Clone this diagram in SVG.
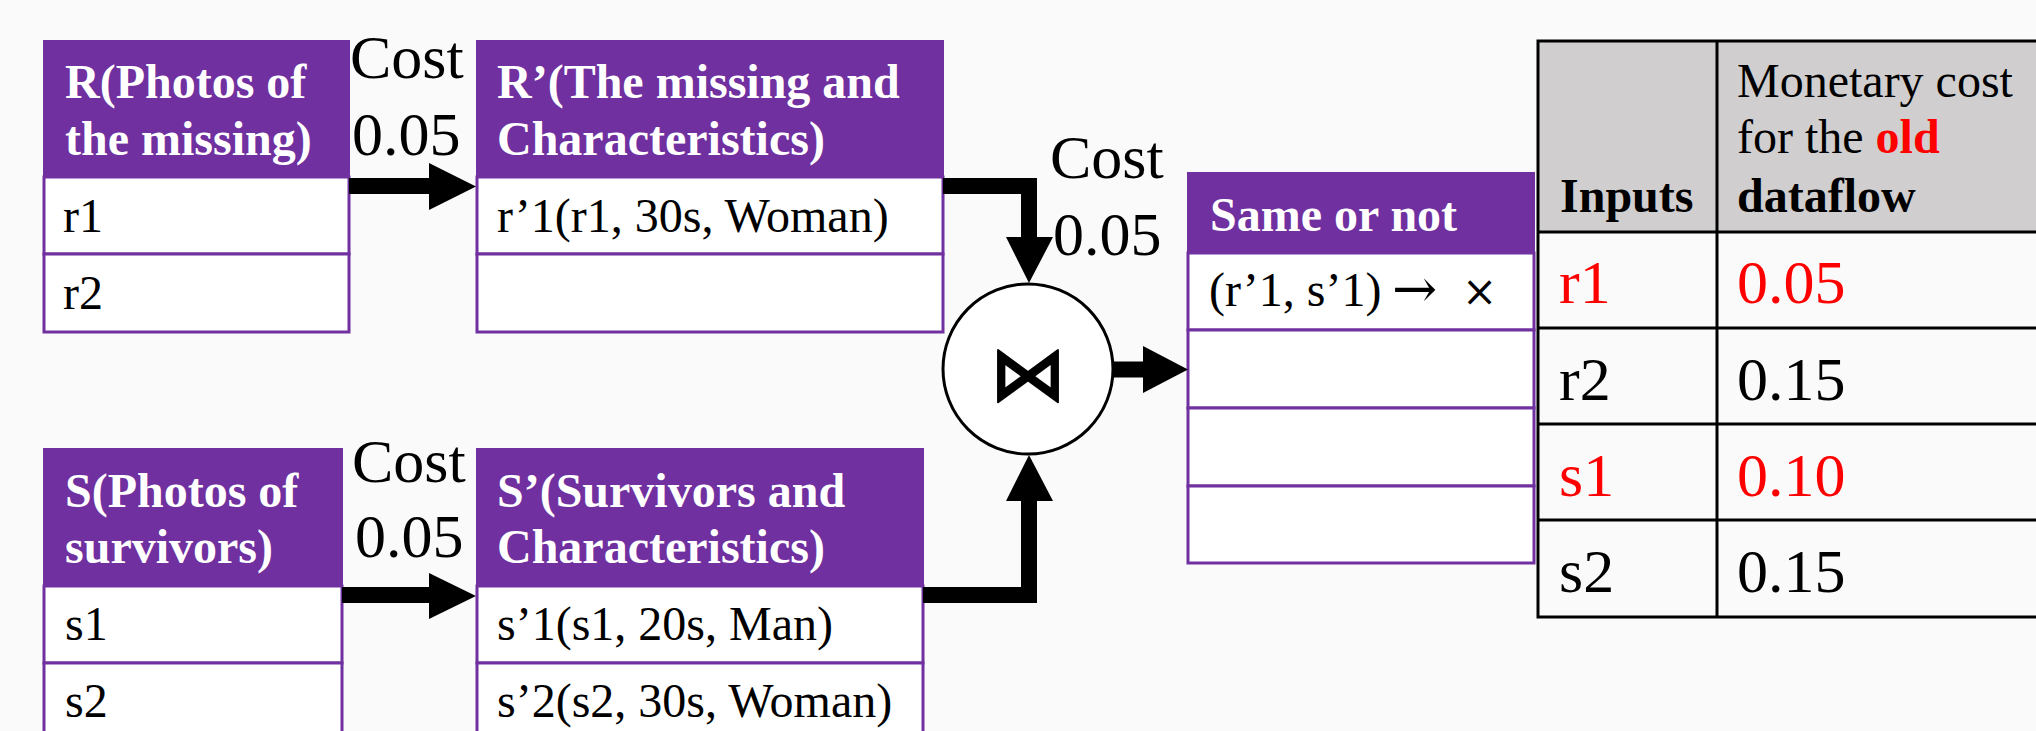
<svg xmlns="http://www.w3.org/2000/svg" width="2036" height="731" viewBox="0 0 2036 731">
<defs>
<style>
.bg{fill:#fafafa}
.hd{fill:#7030a0;stroke:#7030a0;stroke-width:2}
.row{fill:#ffffff;stroke:#7030a0;stroke-width:3}
.ht{font-family:"Liberation Serif","Times New Roman",serif;font-weight:bold;font-size:48px;fill:#ffffff}
.rt{font-family:"Liberation Serif","Times New Roman",serif;font-size:48px;fill:#000000}
.cost{font-family:"Liberation Serif","Times New Roman",serif;font-size:62px;fill:#000000}
.val{font-family:"Liberation Serif","Times New Roman",serif;font-size:62px;fill:#000000}
.red{fill:#ff0000}
.b{font-weight:bold}
.tb{stroke:#000000;stroke-width:3;fill:none}
.shaft{fill:none;stroke:#000000;stroke-width:16;stroke-linejoin:miter}
.head{fill:#000000}
</style>
</defs>
<rect class="bg" x="0" y="0" width="2036" height="731"/>

<g id="R">
<rect class="hd" x="44" y="41" width="305" height="136"/>
<rect class="row" x="44" y="177" width="305" height="77"/>
<rect class="row" x="44" y="254" width="305" height="78"/>
<text class="ht" x="65" y="98">R(Photos of</text>
<text class="ht" x="65" y="155">the missing)</text>
<text class="rt" x="63" y="232">r1</text>
<text class="rt" x="63" y="309">r2</text>
</g>

<g id="Rprime">
<rect class="hd" x="477" y="41" width="466" height="136"/>
<rect class="row" x="477" y="177" width="466" height="77"/>
<rect class="row" x="477" y="254" width="466" height="78"/>
<text class="ht" x="497" y="98">R’(The missing and</text>
<text class="ht" x="497" y="155">Characteristics)</text>
<text class="rt" x="497" y="232">r’1(r1, 30s, Woman)</text>
</g>

<g id="S">
<rect class="hd" x="44" y="449" width="298" height="137"/>
<rect class="row" x="44" y="586" width="298" height="77"/>
<rect class="row" x="44" y="663" width="298" height="78"/>
<text class="ht" x="65" y="507">S(Photos of</text>
<text class="ht" x="65" y="563">survivors)</text>
<text class="rt" x="65" y="640">s1</text>
<text class="rt" x="65" y="717">s2</text>
</g>

<g id="Sprime">
<rect class="hd" x="477" y="449" width="446" height="137"/>
<rect class="row" x="477" y="586" width="446" height="77"/>
<rect class="row" x="477" y="663" width="446" height="78"/>
<text class="ht" x="497" y="507">S’(Survivors and</text>
<text class="ht" x="497" y="563">Characteristics)</text>
<text class="rt" x="497" y="640">s’1(s1, 20s, Man)</text>
<text class="rt" x="497" y="717">s’2(s2, 30s, Woman)</text>
</g>

<g id="join">
<circle cx="1028" cy="369" r="85" fill="#ffffff" stroke="#000000" stroke-width="3"/>
<text x="1028" y="400" text-anchor="middle" font-family="DejaVu Sans, sans-serif" font-size="76" fill="#000000" stroke="#000000" stroke-width="2" stroke-linejoin="round">⋈</text>
</g>

<g id="SameOrNot">
<rect class="hd" x="1188" y="173" width="346" height="80"/>
<rect class="row" x="1188" y="253" width="346" height="77"/>
<rect class="row" x="1188" y="330" width="346" height="78"/>
<rect class="row" x="1188" y="408" width="346" height="78"/>
<rect class="row" x="1188" y="486" width="346" height="77"/>
<text class="ht" x="1210" y="231">Same or not</text>
<text class="rt" y="306"><tspan x="1209">(r’1, s’1)</tspan><tspan x="1392" y="307" font-family="DejaVu Serif, serif" font-size="54">→</tspan><tspan x="1462" y="306" font-family="DejaVu Serif, serif" font-size="42">×</tspan></text>
</g>

<g id="CostTable">
<rect x="1538" y="41" width="510" height="191" fill="#d0cecf"/>
<rect x="1538" y="232" width="510" height="385" fill="#fafafa"/>
<path class="tb" d="M2040,41 H1538 V617 H2040 M1538,232 H2040 M1538,328 H2040 M1538,424 H2040 M1538,520 H2040 M1717,41 V617"/>
<text class="rt b" x="1560" y="212">Inputs</text>
<text class="rt" x="1737" y="97">Monetary cost</text>
<text class="rt" x="1737" y="153">for the <tspan class="b red">old</tspan></text>
<text class="rt b" x="1737" y="212">dataflow</text>
<text class="val red" x="1559" y="303">r1</text>
<text class="val red" x="1737" y="303">0.05</text>
<text class="val" x="1559" y="400">r2</text>
<text class="val" x="1737" y="400">0.15</text>
<text class="val red" x="1559" y="496">s1</text>
<text class="val red" x="1737" y="496">0.10</text>
<text class="val" x="1559" y="592">s2</text>
<text class="val" x="1737" y="592">0.15</text>
</g>

<g id="connectors">
<path class="shaft" d="M349,186 H430"/>
<polygon class="head" points="429,163 476,186.5 429,210"/>
<path class="shaft" d="M342,595 H430"/>
<polygon class="head" points="429,573 476,596 429,619"/>
<path class="shaft" d="M943,186 H1029 V238"/>
<polygon class="head" points="1006,237 1053,237 1029,283"/>
<path class="shaft" d="M923,595 H1029 V500"/>
<polygon class="head" points="1006,501 1053,501 1029,455"/>
<path class="shaft" d="M1113,369.5 H1144"/>
<polygon class="head" points="1143,346 1188,369.5 1143,393"/>
<text class="cost" x="350" y="78">Cost</text>
<text class="cost" x="352" y="155">0.05</text>
<text class="cost" x="352" y="482">Cost</text>
<text class="cost" x="355" y="557">0.05</text>
<text class="cost" x="1050" y="178">Cost</text>
<text class="cost" x="1053" y="255">0.05</text>
</g>
</svg>
